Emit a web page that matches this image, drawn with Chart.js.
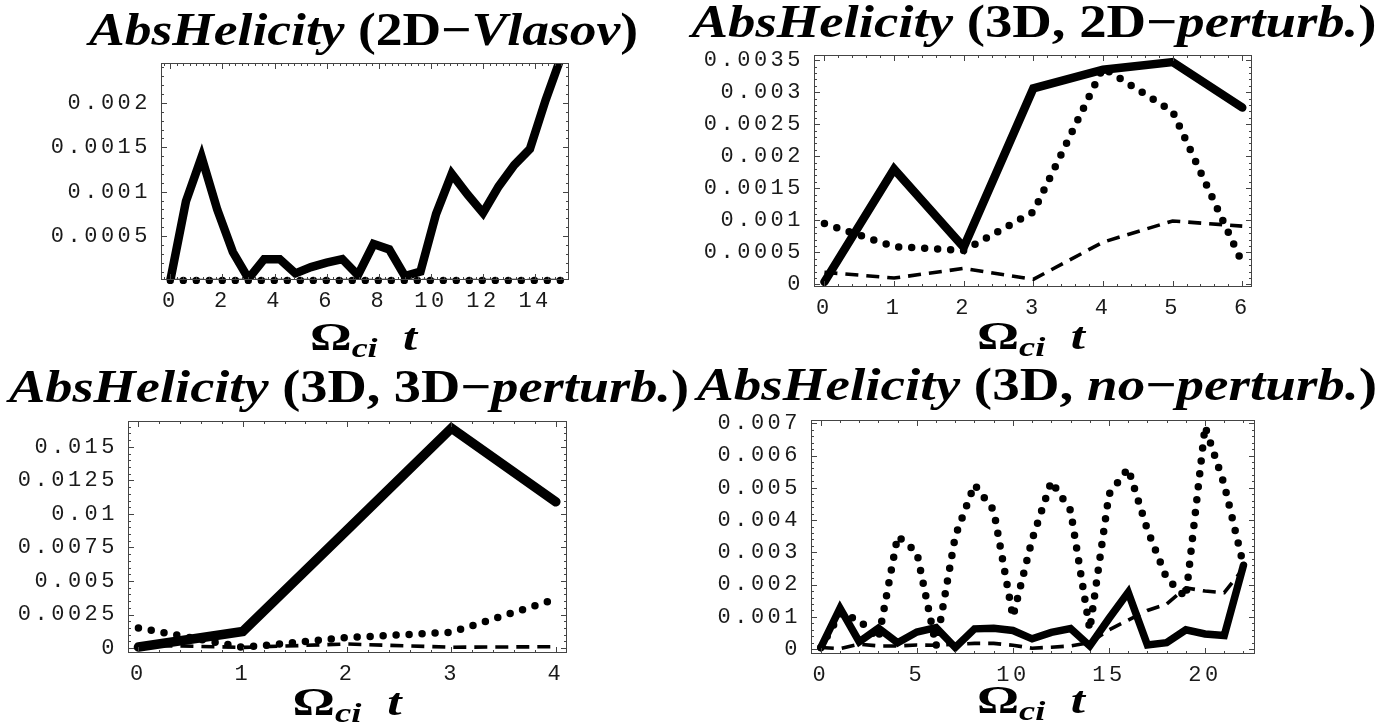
<!DOCTYPE html>
<html>
<head>
<meta charset="utf-8">
<script src="https://cdn.jsdelivr.net/npm/chart.js@4.4.0/dist/chart.umd.min.js"></script>
<style>
html, body { margin: 0; padding: 0; background: #fff; }
#wrap { position: relative; width: 1394px; height: 724px; overflow: hidden; }
canvas { position: absolute; left: 0; top: 0; }
</style>
</head>
<body>
<div id="wrap">
<canvas id="c1" width="1394" height="724"></canvas>
<canvas id="c2" width="1394" height="724"></canvas>
<canvas id="c3" width="1394" height="724"></canvas>
<canvas id="c4" width="1394" height="724"></canvas>
</div>
<script>
// ---- data ----

// 2D-Vlasov
const t1 = [0, 0.6, 1.2, 1.8, 2.4, 3, 3.6, 4.2, 4.8, 5.4, 6, 6.6, 7.2, 7.8, 8.4, 9, 9.6, 10.2, 10.8, 11.4, 12, 12.6, 13.2, 13.8, 14.4, 15];
const solid1 = [0, 0.00089, 0.00139, 0.0008, 0.00032, 0.00002, 0.00024, 0.00024, 0.00008, 0.00015, 0.0002, 0.00024, 0.00006, 0.00041, 0.00035, 0.00005, 0.0001, 0.00075, 0.0012, 0.00097, 0.00076, 0.00106, 0.0013, 0.00148, 0.00203, 0.00252];
const dotted1 = [0, 0, 0, 0, 0, 0, 0, 0, 0, 0, 0, 0, 0, 0, 0, 0, 0, 0, 0, 0, 0, 0, 0, 0, 0, 0];
const dashed1 = [0, 0, 0, 0, 0, 0, 0, 0, 0, 0, 0, 0, 0, 0, 0, 0, 0, 0, 0, 0, 0, 0, 0, 0, 0, 0];
const xTicks1 = [0, 2, 4, 6, 8, 10, 12, 14];
const yTicks1 = [0.0005, 0.001, 0.0015, 0.002];

// 3D, 2D-perturb.
const t2 = [0, 1, 2, 3, 4, 5, 6];
const solid2 = [0.00004, 0.0018, 0.00058, 0.00306, 0.00335, 0.00347, 0.00276];
const dotted2 = [0.00095, 0.00059, 0.00053, 0.00113, 0.00338, 0.0027, 0.00034];
const dashed2 = [0.00019, 0.0001, 0.00025, 0.00008, 0.00066, 0.00099, 0.00091];
const xTicks2 = [0, 1, 2, 3, 4, 5, 6];
const yTicks2 = [0, 0.0005, 0.001, 0.0015, 0.002, 0.0025, 0.003, 0.0035];

// 3D, 3D-perturb.
const t3 = [0, 1, 2, 3, 4];
const solid3 = [0.00008, 0.00124, 0.0088, 0.0164, 0.0109];
const dotted3 = [0.0015, 0.00005, 0.00078, 0.00118, 0.00365];
const dashed3 = [0.00022, 0.00005, 0.0003, 0.00006, 0.0001];
const xTicks3 = [0, 1, 2, 3, 4];
const yTicks3 = [0, 0.0025, 0.005, 0.0075, 0.01, 0.0125, 0.015];

// 3D, no-perturb.
const t4 = [0, 1, 2, 3, 4, 5, 6, 7, 8, 9, 10, 11, 12, 13, 14, 15, 16, 17, 18, 19, 20, 21, 22];
const solid4 = [0.00005, 0.00127, 0.00023, 0.00065, 0.0002, 0.00053, 0.00067, 0.00005, 0.00063, 0.00065, 0.00058, 0.00032, 0.00052, 0.00064, 0.0001, 0.00095, 0.00176, 0.00013, 0.0002, 0.0006, 0.00047, 0.00042, 0.0026];
const dotted4 = [0.00005, 0.0011, 0.0009, 0.00032, 0.0035, 0.003, 0.0001, 0.0035, 0.0051, 0.0043, 0.001, 0.0034, 0.0052, 0.0043, 0.0006, 0.0048, 0.0056, 0.0037, 0.0022, 0.0016, 0.0069, 0.0051, 0.0026];
const dashed4 = [0.00005, 0.00002, 0.00015, 0.0001, 0.0001, 0.00013, 0.00012, 0.00015, 0.00018, 0.00018, 0.00012, 0.00003, 0.00006, 0.0001, 0.0002, 0.0006, 0.0009, 0.0012, 0.0014, 0.0019, 0.0018, 0.00175, 0.0025];
const xTicks4 = [0, 5, 10, 15, 20];
const yTicks4 = [0, 0.001, 0.002, 0.003, 0.004, 0.005, 0.006, 0.007];

// ---- look ----
const BI = 'italic bold 46px "Liberation Serif", "Times New Roman", serif';
const B = 'bold 46px "Liberation Serif", "Times New Roman", serif';
const tickFont = { family: '"Liberation Mono", "Courier New", monospace', size: 22 };

const axisSegs = [
  ['Ω', 'bold 39px "Liberation Serif", serif', 0],
  ['ci', 'italic bold 27px "Liberation Serif", serif', 7],
  ['  t', 'italic bold 38px "Liberation Serif", serif', 0]
];

const panels = [
  {
    id: 'c1', t: t1, solid: solid1, dotted: dotted1, dashed: dashed1, xTicks: xTicks1, yTicks: yTicks1,
    box: { l: 161, r: 569, t: 63, b: 280 }, x: [-0.357, 15.3], y: [0.000005, 0.00245],
    xStep: 2, xSub: 8, yStep: 0.0005, ySub: 5, solidW: 8.5,
    title: [['AbsHelicity ', BI], ['(2D−', B], ['Vlasov', BI], [')', B]],
    titlePos: [363.5, 45, 549], labelPos: [363.5, 350, 107]
  },
  {
    id: 'c2', t: t2, solid: solid2, dotted: dotted2, dashed: dashed2, xTicks: xTicks2, yTicks: yTicks2,
    box: { l: 814, r: 1252, t: 55, b: 287 }, x: [-0.15, 6.14], y: [-0.00004, 0.00358],
    xStep: 1, xSub: 5, yStep: 0.0005, ySub: 5, solidW: 8.5,
    title: [['AbsHelicity ', BI], ['(3D, 2D−', B], ['perturb.', BI], [')', B]],
    titlePos: [1034, 37, 685], labelPos: [1031, 349, 108]
  },
  {
    id: 'c3', t: t3, solid: solid3, dotted: dotted3, dashed: dashed3, xTicks: xTicks3, yTicks: yTicks3,
    box: { l: 128, r: 567, t: 421, b: 653 }, x: [-0.1, 4.107], y: [-0.00037, 0.01693],
    xStep: 1, xSub: 5, yStep: 0.0025, ySub: 5, solidW: 9.5,
    title: [['AbsHelicity ', BI], ['(3D, 3D−', B], ['perturb.', BI], [')', B]],
    titlePos: [349, 402, 680], labelPos: [347, 715, 109]
  },
  {
    id: 'c4', t: t4, solid: solid4, dotted: dotted4, dashed: dashed4, xTicks: xTicks4, yTicks: yTicks4,
    box: { l: 811, r: 1255, t: 420, b: 654 }, x: [-0.51, 22.6], y: [-0.00015, 0.0071],
    xStep: 5, xSub: 5, yStep: 0.001, ySub: 5, solidW: 7.5,
    title: [['AbsHelicity ', BI], ['(3D, ', B], ['no', BI], ['−', B], ['perturb.', BI], [')', B]],
    titlePos: [1037, 400, 680], labelPos: [1031, 713, 108]
  }
];

function xy(xs, ys) {
  return xs.map((x, i) => ({ x: x, y: ys[i] }));
}

function fmt(v) {
  return String(parseFloat(Number(v).toFixed(6)));
}

// text in several fonts on one baseline, fitted to a width
function drawRich(ctx, segs, cx, base, width) {
  ctx.save();
  ctx.letterSpacing = '0px';
  ctx.fillStyle = '#000';
  ctx.textAlign = 'left';
  ctx.textBaseline = 'alphabetic';
  const ws = segs.map(s => { ctx.font = s[1]; return ctx.measureText(s[0]).width; });
  const total = ws.reduce((a, b) => a + b, 0);
  ctx.translate(cx - width / 2, base);
  ctx.scale(width / total, 1);
  let x = 0;
  segs.forEach((s, i) => {
    ctx.font = s[1];
    ctx.fillText(s[0], x, s[2] || 0);
    x += ws[i];
  });
  ctx.restore();
}

// frame ticks, pointing inwards on all four sides
function minorTicks(ctx, scale, step, sub, a, horizontal) {
  const ms = step / sub;
  const i0 = Math.ceil(scale.min / ms - 1e-9);
  const i1 = Math.floor(scale.max / ms + 1e-9);
  for (let i = i0; i <= i1; i++) {
    const len = (i % sub === 0) ? 6 : 3;
    const p = Math.round(scale.getPixelForValue(i * ms)) + 0.5;
    ctx.beginPath();
    if (horizontal) {
      ctx.moveTo(p, a.bottom); ctx.lineTo(p, a.bottom - len);
      ctx.moveTo(p, a.top); ctx.lineTo(p, a.top + len);
    } else {
      ctx.moveTo(a.left, p); ctx.lineTo(a.left + len, p);
      ctx.moveTo(a.right, p); ctx.lineTo(a.right - len, p);
    }
    ctx.stroke();
  }
}

function framePlugin(p) {
  return {
    id: 'frame',
    beforeDraw(chart) {
      chart.ctx.letterSpacing = '3.5px';
    },
    afterDraw(chart) {
      const ctx = chart.ctx;
      const a = chart.chartArea;
      ctx.save();
      ctx.letterSpacing = '0px';
      ctx.strokeStyle = '#444';
      ctx.lineWidth = 1;
      ctx.strokeRect(a.left + 0.5, a.top + 0.5, a.right - a.left - 1, a.bottom - a.top - 1);
      minorTicks(ctx, chart.scales.x, p.xStep, p.xSub, a, true);
      minorTicks(ctx, chart.scales.y, p.yStep, p.ySub, a, false);
      ctx.restore();
      drawRich(ctx, p.title, p.titlePos[0], p.titlePos[1], p.titlePos[2]);
      drawRich(ctx, axisSegs, p.labelPos[0], p.labelPos[1], p.labelPos[2]);
    }
  };
}

function makeChart(p) {
  const ctx = document.getElementById(p.id).getContext('2d');
  return new Chart(ctx, {
    type: 'scatter',
    data: {
      datasets: [
        {
          label: 'solid',
          data: xy(p.t, p.solid),
          showLine: true,
          borderColor: '#000',
          borderWidth: p.solidW,
          borderCapStyle: 'round',
          borderJoinStyle: 'miter',
          pointRadius: 0,
          clip: 0
        },
        {
          label: 'dotted',
          data: xy(p.t, p.dotted),
          showLine: true,
          borderColor: '#000',
          borderWidth: 7.5,
          borderDash: [0, 13],
          borderCapStyle: 'round',
          pointRadius: 0,
          clip: 4
        },
        {
          label: 'dashed',
          data: xy(p.t, p.dashed),
          showLine: true,
          borderColor: '#000',
          borderWidth: 3.6,
          borderDash: [13, 8],
          pointRadius: 0,
          clip: 0
        }
      ]
    },
    options: {
      responsive: false,
      animation: false,
      events: [],
      layout: {
        padding: { left: p.box.l - 120, top: p.box.t, right: 1394 - p.box.r, bottom: 724 - p.box.b - 40 }
      },
      plugins: {
        legend: { display: false },
        tooltip: { enabled: false },
        title: { display: false }
      },
      scales: {
        x: {
          type: 'linear',
          min: p.x[0],
          max: p.x[1],
          afterFit: s => { s.height = 40; },
          afterBuildTicks: s => { s.ticks = p.xTicks.map(v => ({ value: v })); },
          grid: { display: false },
          border: { display: false },
          ticks: { autoSkip: false, maxRotation: 0, padding: 0, font: tickFont, color: '#1a1a1a', callback: v => fmt(v) }
        },
        y: {
          type: 'linear',
          min: p.y[0],
          max: p.y[1],
          afterFit: s => { s.width = 120; },
          afterBuildTicks: s => { s.ticks = p.yTicks.map(v => ({ value: v })); },
          grid: { display: false },
          border: { display: false },
          ticks: { autoSkip: false, padding: 2, font: tickFont, color: '#1a1a1a', callback: v => fmt(v) }
        }
      }
    },
    plugins: [framePlugin(p)]
  });
}

panels.forEach(makeChart);
</script>
</body>
</html>
